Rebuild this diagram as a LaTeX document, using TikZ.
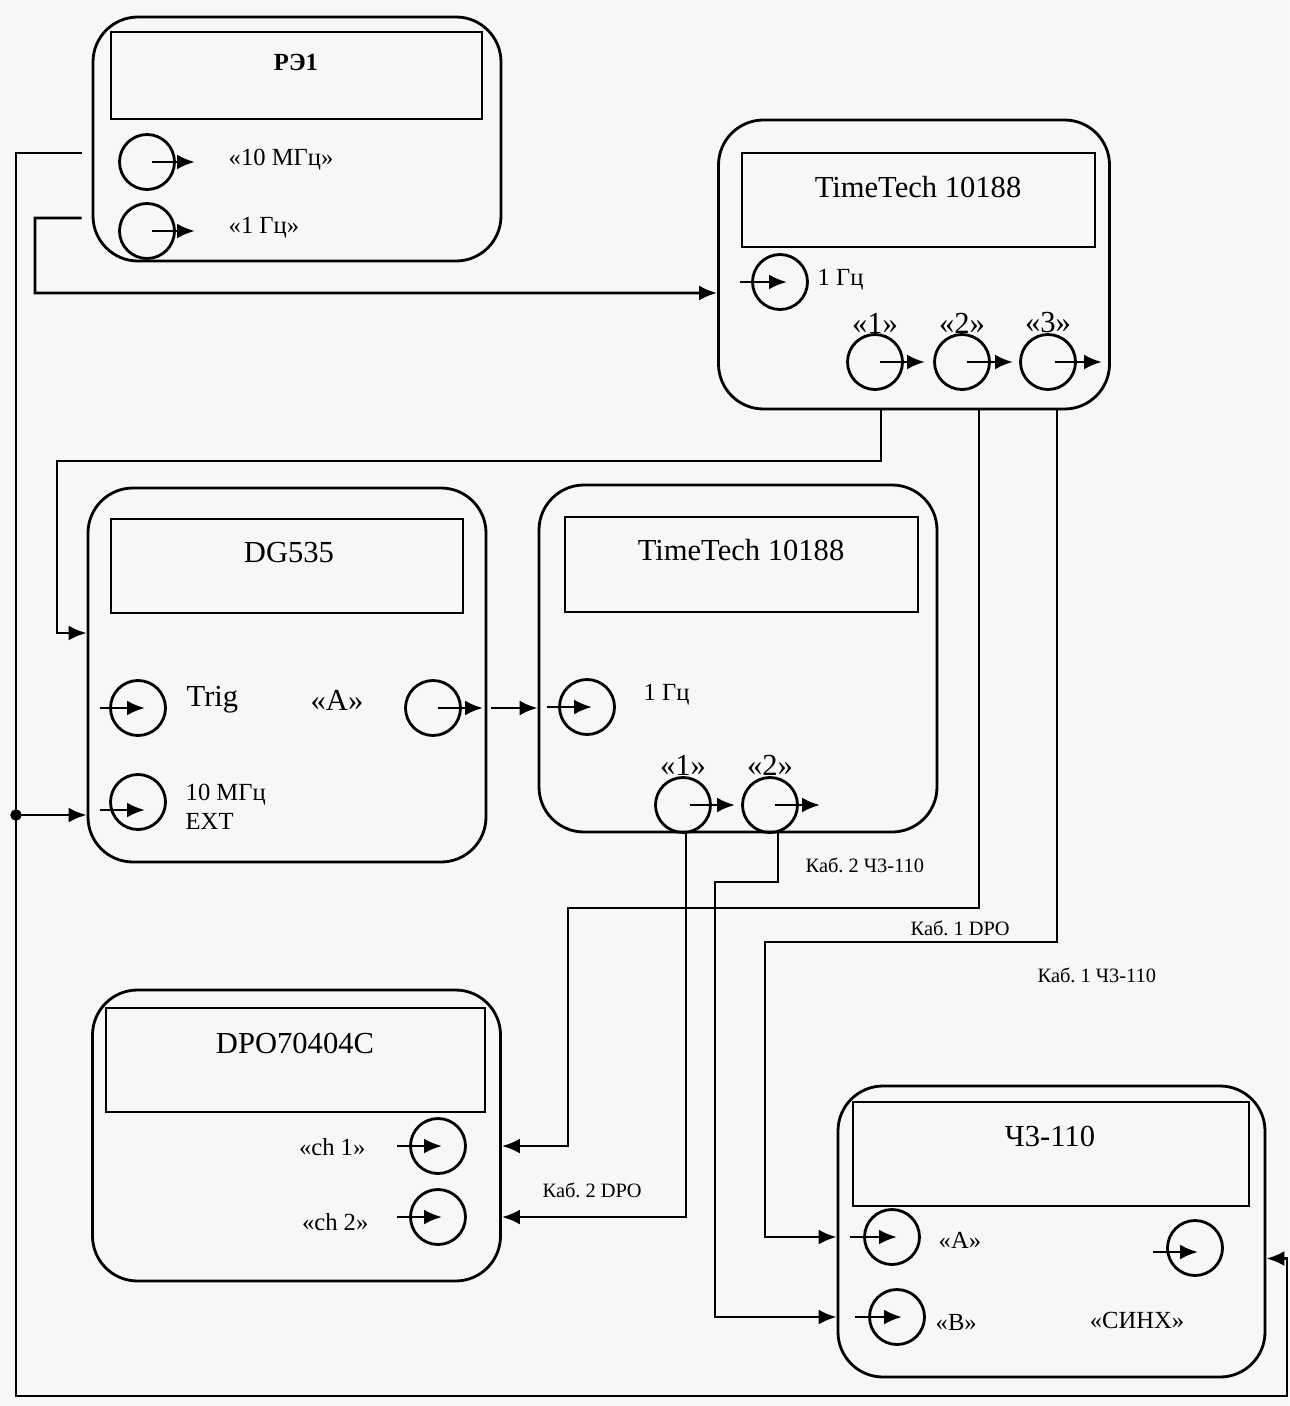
\documentclass[tikz,border=0pt]{standalone}
\usepackage{fontspec}
\setmainfont{Liberation Serif}
\frenchspacing
\usetikzlibrary{arrows.meta, positioning}
\tikzset{
    device/.style={rectangle, draw, rounded corners=0.45cm, line width=0.8pt, inner sep=0pt},
    display/.style={rectangle, draw, line width=0.8pt, inner sep=0pt},
    jack/.style={circle, draw, minimum size=0.55cm, inner sep=0pt, line width=0.8pt},
    big/.style={font=\fontsize{8.7}{10}\selectfont, inner sep=0pt},
    mid/.style={font=\fontsize{7}{8.4}\selectfont, inner sep=0pt},
    cable/.style={font=\fontsize{5.8}{7}\selectfont, inner sep=0pt},
    wire/.style={line width=0.8pt},
    arrow/.style={-{Latex[length=1.8mm, width=1.5mm]}, line width=0.8pt}
}

\begin{document}
\begin{tikzpicture}

    \useasboundingbox[fill=black!3] (0,0) rectangle (12.89,-14.06);

    % Devices
    \node[device, minimum width=4.08cm, minimum height=2.44cm] (re1) at (2.97,-1.39) {};
    \node[device, minimum width=3.91cm, minimum height=2.89cm] (tt1) at (9.14,-2.645) {};
    \node[device, minimum width=3.98cm, minimum height=3.74cm] (dg) at (2.87,-6.75) {};
    \node[device, minimum width=3.98cm, minimum height=3.47cm] (tt2) at (7.38,-6.585) {};
    \node[device, minimum width=4.08cm, minimum height=2.91cm] (dpo) at (2.965,-11.355) {};
    \node[device, minimum width=4.27cm, minimum height=2.91cm] (cz) at (10.515,-12.315) {};

    % Displays
    \node[display, minimum width=3.71cm, minimum height=0.87cm] (re1-disp) at (2.965,-0.755) {};
    \node[display, minimum width=3.53cm, minimum height=0.94cm] (tt1-disp) at (9.185,-2.0) {};
    \node[display, minimum width=3.52cm, minimum height=0.94cm] (dg-disp) at (2.87,-5.66) {};
    \node[display, minimum width=3.53cm, minimum height=0.95cm] (tt2-disp) at (7.415,-5.645) {};
    \node[display, minimum width=3.79cm, minimum height=1.04cm] (dpo-disp) at (2.955,-10.6) {};
    \node[display, minimum width=3.96cm, minimum height=1.04cm] (cz-disp) at (10.51,-11.54) {};

    % Titles
    \node[mid, font=\fontsize{7}{8.4}\selectfont\bfseries] (re1-title) at (2.96,-0.62) {РЭ1};
    \node[big] (tt1-title) at (9.18,-1.87) {TimeTech 10188};
    \node[big] (dg-title) at (2.89,-5.53) {DG535};
    \node[big] (tt2-title) at (7.41,-5.50) {TimeTech 10188};
    \node[big] (dpo-title) at (2.95,-10.43) {DPO70404C};
    \node[big] (cz-title) at (10.50,-11.36) {Ч3-110};

    % Jacks
    \node[jack] (re1-10) at (1.47,-1.62) {};
    \node[jack] (re1-1) at (1.47,-2.31) {};
    \node[jack] (tt1-in) at (7.80,-2.82) {};
    \node[jack] (tt1-o1) at (8.75,-3.62) {};
    \node[jack] (tt1-o2) at (9.62,-3.62) {};
    \node[jack] (tt1-o3) at (10.48,-3.62) {};
    \node[jack] (dg-trig) at (1.38,-7.08) {};
    \node[jack] (dg-a) at (4.33,-7.08) {};
    \node[jack] (dg-ext) at (1.38,-8.02) {};
    \node[jack] (tt2-in) at (5.87,-7.07) {};
    \node[jack] (tt2-o1) at (6.83,-8.05) {};
    \node[jack] (tt2-o2) at (7.70,-8.05) {};
    \node[jack] (dpo-ch1) at (4.38,-11.46) {};
    \node[jack] (dpo-ch2) at (4.38,-12.17) {};
    \node[jack] (cz-a) at (8.92,-12.37) {};
    \node[jack] (cz-b) at (8.97,-13.17) {};
    \node[jack] (cz-sync) at (11.95,-12.48) {};

    % Jack arrows
    \draw[arrow] ([xshift=0.05cm]re1-10.center) -- ++(0.43,0);
    \draw[arrow] ([xshift=0.05cm]re1-1.center) -- ++(0.43,0);
    \draw[arrow] ([xshift=-0.40cm]tt1-in.center) -- ++(0.47,0);
    \draw[arrow] ([xshift=0.05cm]tt1-o1.center) -- ++(0.45,0);
    \draw[arrow] ([xshift=0.05cm]tt1-o2.center) -- ++(0.46,0);
    \draw[arrow] ([xshift=0.07cm]tt1-o3.center) -- ++(0.47,0);
    \draw[arrow] ([xshift=-0.38cm]dg-trig.center) -- ++(0.45,0);
    \draw[arrow] ([xshift=0.05cm]dg-a.center) -- ++(0.45,0);
    \draw[arrow] ([xshift=-0.38cm,yshift=-0.08cm]dg-ext.center) -- ++(0.45,0);
    \draw[arrow] ([xshift=-0.40cm]tt2-in.center) -- ++(0.45,0);
    \draw[arrow] ([xshift=0.07cm]tt2-o1.center) -- ++(0.45,0);
    \draw[arrow] ([xshift=0.05cm]tt2-o2.center) -- ++(0.45,0);
    \draw[arrow] ([xshift=-0.41cm]dpo-ch1.center) -- ++(0.45,0);
    \draw[arrow] ([xshift=-0.41cm]dpo-ch2.center) -- ++(0.45,0);
    \draw[arrow] ([xshift=-0.42cm]cz-a.center) -- ++(0.47,0);
    \draw[arrow] ([xshift=-0.42cm]cz-b.center) -- ++(0.47,0);
    \draw[arrow] ([xshift=-0.42cm,yshift=-0.04cm]cz-sync.center) -- ++(0.45,0);

    % Jack labels
    \node[mid, anchor=west] (re1-10-lbl) at (2.28,-1.60) {«10 МГц»};
    \node[mid, anchor=west] (re1-1-lbl) at (2.28,-2.28) {«1 Гц»};
    \node[mid, anchor=west] (tt1-in-lbl) at (8.17,-2.80) {1 Гц};
    \node[big] (tt1-o1-lbl) at (8.75,-3.23) {«1»};
    \node[big] (tt1-o2-lbl) at (9.62,-3.23) {«2»};
    \node[big] (tt1-o3-lbl) at (10.48,-3.23) {«3»};
    \node[big, anchor=west] (dg-trig-lbl) at (1.86,-7.0) {Trig};
    \node[big] (dg-a-lbl) at (3.37,-7.0) {«A»};
    \node[mid, anchor=west, align=left] (dg-ext-lbl) at (1.85,-8.07) {10 МГц\\EXT};
    \node[mid, anchor=west] (tt2-in-lbl) at (6.43,-6.95) {1 Гц};
    \node[big] (tt2-o1-lbl) at (6.83,-7.65) {«1»};
    \node[big] (tt2-o2-lbl) at (7.70,-7.65) {«2»};
    \node[mid, anchor=east] (dpo-ch1-lbl) at (3.66,-11.47) {«ch 1»};
    \node[mid, anchor=east] (dpo-ch2-lbl) at (3.69,-12.22) {«ch 2»};
    \node[mid, anchor=west] (cz-a-lbl) at (9.38,-12.40) {«A»};
    \node[mid, anchor=west] (cz-b-lbl) at (9.35,-13.22) {«B»};
    \node[mid] (cz-sync-lbl) at (11.37,-13.20) {«СИНХ»};

    % Cable labels
    \node[cable, anchor=west] (cab2cz) at (8.05,-8.65) {Каб. 2 Ч3-110};
    \node[cable, anchor=west] (cab1dpo) at (9.10,-9.28) {Каб. 1 DPO};
    \node[cable, anchor=west] (cab1cz) at (10.37,-9.75) {Каб. 1 Ч3-110};
    \node[cable, anchor=west] (cab2dpo) at (5.42,-11.90) {Каб. 2 DPO};

    % Reference 10 MHz bus
    \coordinate (bus) at (0.16,-8.15);
    \draw[arrow] ([xshift=-0.1cm,yshift=0.09cm]re1.west |- re1-10) -| (bus)
        |- (12.87,-13.96) |- ([yshift=-0.27cm]cz.east);
    \filldraw (bus) circle (0.05);
    \draw[arrow] (bus) -- (dg.west |- bus);

    % 1 Hz from RE1
    \draw[arrow] ([xshift=-0.1cm,yshift=0.13cm]re1.west |- re1-1) -| (0.35,-2.93)
        -- ([yshift=-0.285cm]tt1.west);

    % Cables from first TimeTech
    \draw[arrow] ([xshift=0.06cm]tt1-o1 |- tt1.south) |- (0.57,-4.61) |- ([yshift=0.42cm]dg.west);
    \draw[arrow] ([xshift=0.17cm]tt1-o2 |- tt1.south) |- (5.68,-9.08) |- (dpo.east |- dpo-ch1);
    \draw[arrow] ([xshift=0.09cm]tt1-o3 |- tt1.south) |- (7.65,-9.42) |- (cz.west |- cz-a);

    % DG535 to second TimeTech
    \draw[arrow] ([xshift=0.04cm]dg.east |- dg-a) -- (tt2.west |- dg-a);

    % Cables from second TimeTech
    \draw[arrow] ([xshift=0.03cm]tt2-o1 |- tt2.south) |- (dpo.east |- dpo-ch2);
    \draw[arrow] ([xshift=0.08cm]tt2-o2 |- tt2.south) |- (7.15,-8.82) |- (cz.west |- cz-b);

\end{tikzpicture}
\end{document}
